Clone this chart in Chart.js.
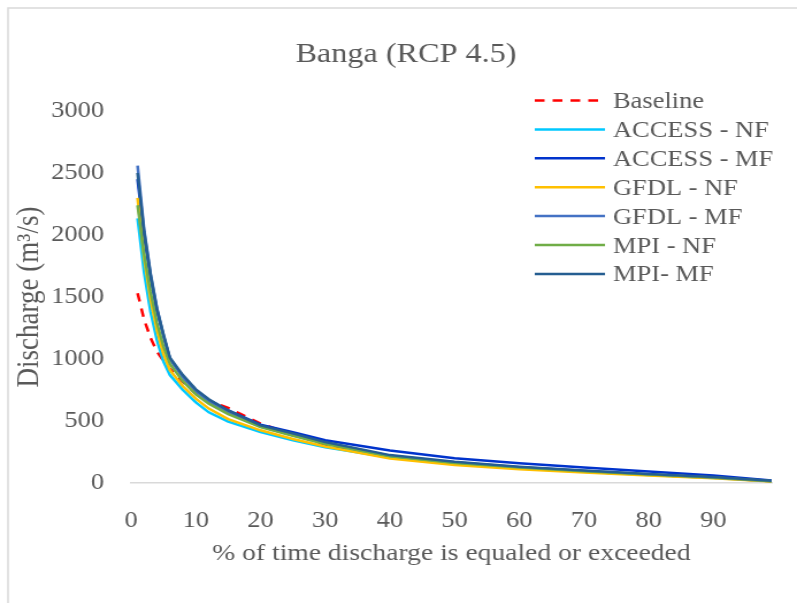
<!DOCTYPE html>
<html>
<head>
<meta charset="utf-8">
<script src="https://cdn.jsdelivr.net/npm/chart.js@4.4.1/dist/chart.umd.min.js"></script>
<style>
  html, body { margin: 0; padding: 0; background: #fff; overflow: hidden; }
  #curva { display: block; }
</style>
</head>
<body>
<!-- canvas is drawn narrower and widened by its inline style -->
<canvas id="curva" width="693" height="603" style="width: 797px; height: 603px;"></canvas>
<script>
// Flow duration curves - Banga, RCP 4.5
const percentTime = [1, 2, 3, 4, 5, 6, 8, 10, 12, 15, 20, 25, 30, 40, 50, 60, 70, 80, 90, 99];

const baseline = [1530, 1320, 1170, 1060, 985, 920, 815, 720, 665, 605, 480, 390, 310, 212, 158, 120, 92, 66, 42, 14];
const accessNF = [2135, 1700, 1380, 1150, 980, 870, 750, 650, 570, 495, 411, 345, 288, 205, 155, 118, 90, 64, 40, 14];
const accessMF = [2450, 2000, 1660, 1390, 1185, 1000, 860, 750, 670, 585, 470, 410, 345, 262, 200, 160, 125, 92, 60, 20];
const gfdlNF   = [2300, 1820, 1480, 1230, 1040, 910, 780, 680, 600, 515, 425, 355, 295, 198, 145, 110, 84, 60, 38, 12];
const gfdlMF   = [2560, 2050, 1690, 1410, 1190, 1000, 850, 740, 655, 565, 455, 385, 320, 220, 168, 128, 98, 70, 45, 16];
const mpiNF    = [2240, 1850, 1540, 1290, 1100, 960, 820, 715, 640, 555, 450, 380, 315, 215, 162, 125, 95, 68, 44, 15];
const mpiMF    = [2500, 2030, 1680, 1400, 1200, 1010, 870, 755, 675, 585, 465, 400, 330, 225, 172, 132, 100, 72, 48, 18];

const seriesNames = ['Baseline', 'ACCESS - NF', 'ACCESS - MF', 'GFDL - NF', 'GFDL - MF', 'MPI - NF', 'MPI- MF'];
const seriesValues = [baseline, accessNF, accessMF, gfdlNF, gfdlMF, mpiNF, mpiMF];
const seriesColors = ['#FF0000', '#00C8FF', '#0033CC', '#FFC000', '#4472C4', '#70AD47', '#255E91'];

const xTicks = [0, 10, 20, 30, 40, 50, 60, 70, 80, 90];
const yTicks = [0, 500, 1000, 1500, 2000, 2500, 3000];

const chartTitle = 'Banga (RCP 4.5)';
const xTitle = '% of time discharge is equaled or exceeded';
const yTitle = 'Discharge (m\u00B3/s)';

const textColor = '#595959';
const serif = '"Liberation Serif", "Times New Roman", serif';

const datasets = seriesValues.map((vals, i) => ({
    label: seriesNames[i],
    data: vals.map((v, k) => ({ x: percentTime[k], y: v })),
    borderColor: seriesColors[i],
    backgroundColor: seriesColors[i],
    borderWidth: 2.5,
    borderDash: i === 0 ? [8.5, 7] : [],
    // later series sit on top
    order: seriesValues.length - 1 - i
}));

// border, title and the legend drawn inside the plot
const moldura = {
    id: 'moldura',
    beforeDraw(chart) {
        const ctx = chart.ctx;
        ctx.save();
        ctx.strokeStyle = '#d9d9d9';
        ctx.lineWidth = 1.5;
        ctx.strokeRect(7, 8, chart.width + 20, chart.height + 20);
        ctx.restore();
    },
    afterDraw(chart) {
        const ctx = chart.ctx;
        ctx.save();
        ctx.fillStyle = textColor;
        ctx.font = '28px ' + serif;
        ctx.textAlign = 'center';
        ctx.textBaseline = 'alphabetic';
        ctx.fillText(chartTitle, 353, 62);

        ctx.font = '23px ' + serif;
        ctx.textAlign = 'left';
        chart.data.datasets.forEach((ds, i) => {
            const y = 100.5 + i * 28.9;
            ctx.beginPath();
            ctx.setLineDash(ds.borderDash || []);
            ctx.strokeStyle = ds.borderColor;
            ctx.lineWidth = 2.5;
            ctx.moveTo(465, y);
            ctx.lineTo(526, y);
            ctx.stroke();
            ctx.setLineDash([]);
            ctx.fillText(ds.label, 533, y + 7.5);
        });
        ctx.restore();
    }
};

new Chart(document.getElementById('curva'), {
    type: 'line',
    data: { datasets },
    options: {
        responsive: false,
        devicePixelRatio: 1,
        animation: false,
        layout: { padding: { top: 111, right: 22, bottom: 0, left: 0 } },
        elements: {
            point: { radius: 0 },
            line: { tension: 0 }
        },
        plugins: {
            legend: { display: false },
            tooltip: { enabled: false },
            title: { display: false }
        },
        scales: {
            x: {
                type: 'linear',
                min: 0,
                max: 99,
                afterBuildTicks: s => { s.ticks = xTicks.map(v => ({ value: v })); },
                afterFit: s => { s.height = 120; },
                grid: { display: false, drawTicks: false },
                border: { display: true, color: '#d9d9d9', width: 1.5 },
                ticks: {
                    color: textColor,
                    padding: 24,
                    maxRotation: 0,
                    autoSkip: false,
                    callback: v => String(v),
                    font: { family: serif, size: 23 }
                },
                title: {
                    display: true,
                    text: xTitle,
                    color: textColor,
                    padding: { top: 0, bottom: 35 },
                    font: { family: serif, size: 24 }
                }
            },
            y: {
                min: 0,
                max: 3000,
                afterBuildTicks: s => { s.ticks = yTicks.map(v => ({ value: v })); },
                afterFit: s => { s.width = 114; },
                grid: { display: false, drawTicks: false },
                border: { display: false },
                ticks: {
                    color: textColor,
                    padding: 23.5,
                    callback: v => String(v),
                    font: { family: serif, size: 23 }
                },
                title: {
                    display: true,
                    text: yTitle,
                    color: textColor,
                    padding: { top: 10, bottom: 0 },
                    font: { family: serif, size: 27 }
                }
            }
        }
    },
    plugins: [moldura]
});
</script>
</body>
</html>
